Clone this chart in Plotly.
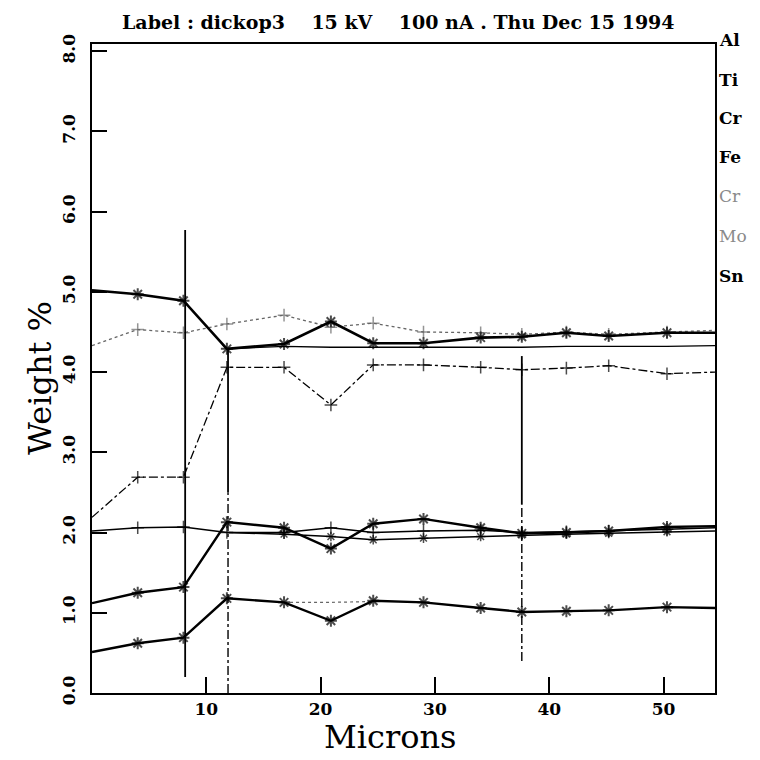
import plotly.graph_objects as go

# ---------------- data ----------------
X = [0, 4, 8, 11.8, 16.8, 20.9, 24.6, 29, 34, 37.6, 41.5, 45.2, 50.3, 54.5]
X_FROM12 = X[3:]

s_top_thick = [5.02, 4.97, 4.89, 4.29, 4.35, 4.63, 4.36, 4.36, 4.43, 4.44, 4.49, 4.45, 4.49, 4.49]
s_top_dot = [4.33, 4.53, 4.49, 4.60, 4.71, 4.56, 4.61, 4.50, 4.49, 4.47, 4.50, 4.47, 4.50, 4.52]
s_flat_43 = [4.29, 4.32, 4.31, 4.31, 4.31, 4.31, 4.31, 4.32, 4.32, 4.32, 4.33]
s_dashdot_40 = [2.19, 2.69, 2.69, 4.06, 4.06, 3.59, 4.09, 4.09, 4.06, 4.03, 4.05, 4.08, 3.98, 4.00]
s_thin_20 = [2.02, 2.06, 2.07, 2.00, 2.00, 2.06, 2.00, 2.02, 2.03, 2.00, 2.01, 2.02, 2.04, 2.06]
s_thick_20 = [1.12, 1.25, 1.32, 2.13, 2.06, 1.80, 2.11, 2.17, 2.06, 1.99, 2.00, 2.02, 2.07, 2.08]
s_thin_19 = [2.00, 1.98, 1.95, 1.91, 1.93, 1.95, 1.97, 1.98, 1.99, 2.01, 2.02]
s_thick_10 = [0.51, 0.62, 0.69, 1.18, 1.13, 0.90, 1.15, 1.13, 1.06, 1.01, 1.02, 1.03, 1.07, 1.06]
X_FAINT = [16.8, 20.9, 24.6]
s_faint_11 = [1.13, 1.13, 1.14]

# boundary markers (vertical lines)
VLINE_X = [8.15, 11.9, 37.6]
VLINE_TOP = [5.77, 4.29, 4.20]
VLINE_MID = [None, 2.50, 2.35]
VLINE_BOT = [0.20, 0.00, 0.40]

Y_TICKS = [0, 1, 2, 3, 4, 5, 6, 7, 8]
Y_TICKTEXT = ["0.0", "1.0", "2.0", "3.0", "4.0", "5.0", "6.0", "7.0", "8.0"]
X_TICKS = [10, 20, 30, 40, 50]
X_TICKTEXT = ["10", "20", "30", "40", "50"]

LEGEND_LABELS = ["Al", "Ti", "Cr", "Fe", "Cr", "Mo", "Sn"]
LEGEND_FAINT = [False, False, False, False, True, True, False]

TITLE = "Label : dickop3\u00a0\u00a0\u00a0 15 kV\u00a0\u00a0\u00a0 100 nA . Thu Dec 15 1994"

# ---------------- figure ----------------
FONT = "DejaVu Serif"
OFF = 8  # page body margin of the html page
L, R, T, B = 92, 715, 44, 693  # plot-area edges in screenshot pixels
W = H = 760 - OFF


def px(x):
    return (x - L) / (R - L)


def py(y):
    return (B - y) / (B - T)


def inner_sizes(n, s):
    return [0] + [s] * (n - 2) + [0]


fig = go.Figure()


def add(xs, ys, name, width, color="black", dash="solid", symbol=None, msize=0, mline=1.5):
    kw = dict(x=xs, y=ys, name=name, showlegend=False, hoverinfo="skip",
              line=dict(color=color, width=width, dash=dash))
    if symbol:
        kw["mode"] = "lines+markers"
        kw["marker"] = dict(symbol=symbol, size=inner_sizes(len(xs), msize),
                            color=color, line=dict(color=color, width=mline))
    else:
        kw["mode"] = "lines"
    fig.add_trace(go.Scatter(**kw))


add(X, s_top_dot, "Ti", 1.3, color="#666666", dash="dot", symbol="cross-thin-open", msize=9, mline=1.5)
add(X_FROM12, s_flat_43, "Cr", 1.3)
add(X, s_top_thick, "Al", 2.6, symbol="asterisk-open", msize=10, mline=2)
add(X, s_dashdot_40, "Fe", 1.3, dash="dashdot", symbol="cross-thin-open", msize=9, mline=1.5)
add(X, s_thin_20, "Cr2", 1.5, symbol="cross-thin-open", msize=9, mline=1.5)
add(X_FROM12, s_thin_19, "Mo", 1.5, symbol="asterisk-open", msize=8, mline=1.5)
add(X, s_thick_20, "Sn", 2.4, symbol="asterisk-open", msize=10, mline=2)
add(X_FAINT, s_faint_11, "Mo2", 1.2, color="#666666", dash="dot")
add(X, s_thick_10, "Al2", 2.4, symbol="asterisk-open", msize=10, mline=2)

for xv, top, mid, bot in zip(VLINE_X, VLINE_TOP, VLINE_MID, VLINE_BOT):
    if mid is None:
        add([xv, xv], [bot, top], "bound", 1.8)
    else:
        add([xv, xv], [mid, top], "bound", 1.8)
        add([xv, xv], [bot, mid], "bound", 1.4, dash="dashdot")

axis_common = dict(showline=True, linecolor="black", linewidth=2, mirror=True,
                   showgrid=False, zeroline=False, ticks="inside",
                   tickcolor="black", tickwidth=1.6)

fig.update_layout(
    width=W, height=H,
    margin=dict(l=L - OFF, r=760 - R, t=T - OFF, b=760 - B),
    paper_bgcolor="white", plot_bgcolor="white",
    xaxis=dict(range=[0, 54.5], tickvals=X_TICKS, ticktext=[f"<b>{t}</b>" for t in X_TICKTEXT],
               ticklen=16, tickfont=dict(family=FONT, size=17, color="black"), **axis_common),
    yaxis=dict(range=[0, 8.09], tickvals=Y_TICKS, ticktext=[f"<b>{t}</b>" for t in Y_TICKTEXT],
               ticklen=15, tickangle=-90, ticklabelstandoff=8,
               tickfont=dict(family=FONT, size=17, color="black"), **axis_common),
    font=dict(family=FONT, color="black"),
)

ann = [
    dict(text=f"<b>{TITLE}</b>", x=px(398), y=py(22), font=dict(size=19)),
    dict(text="Weight %", x=px(40), y=py(378), textangle=-90, font=dict(size=32)),
    dict(text="Microns", x=px(390), y=py(737), font=dict(size=32)),
]
legend_y = [40, 80, 118, 157, 196, 236, 276]
for lab, faint, yy in zip(LEGEND_LABELS, LEGEND_FAINT, legend_y):
    txt = lab if faint else f"<b>{lab}</b>"
    ann.append(dict(text=txt, x=px(717), y=py(yy), xanchor="left",
                    font=dict(size=17, color="#8a8a8a" if faint else "black")))

for a in ann:
    a.setdefault("xanchor", "center")
    fig.add_annotation(xref="paper", yref="paper", showarrow=False, yanchor="middle",
                       font=dict(family=FONT, **a.pop("font")), **a)

fig.write_html("out.html")
